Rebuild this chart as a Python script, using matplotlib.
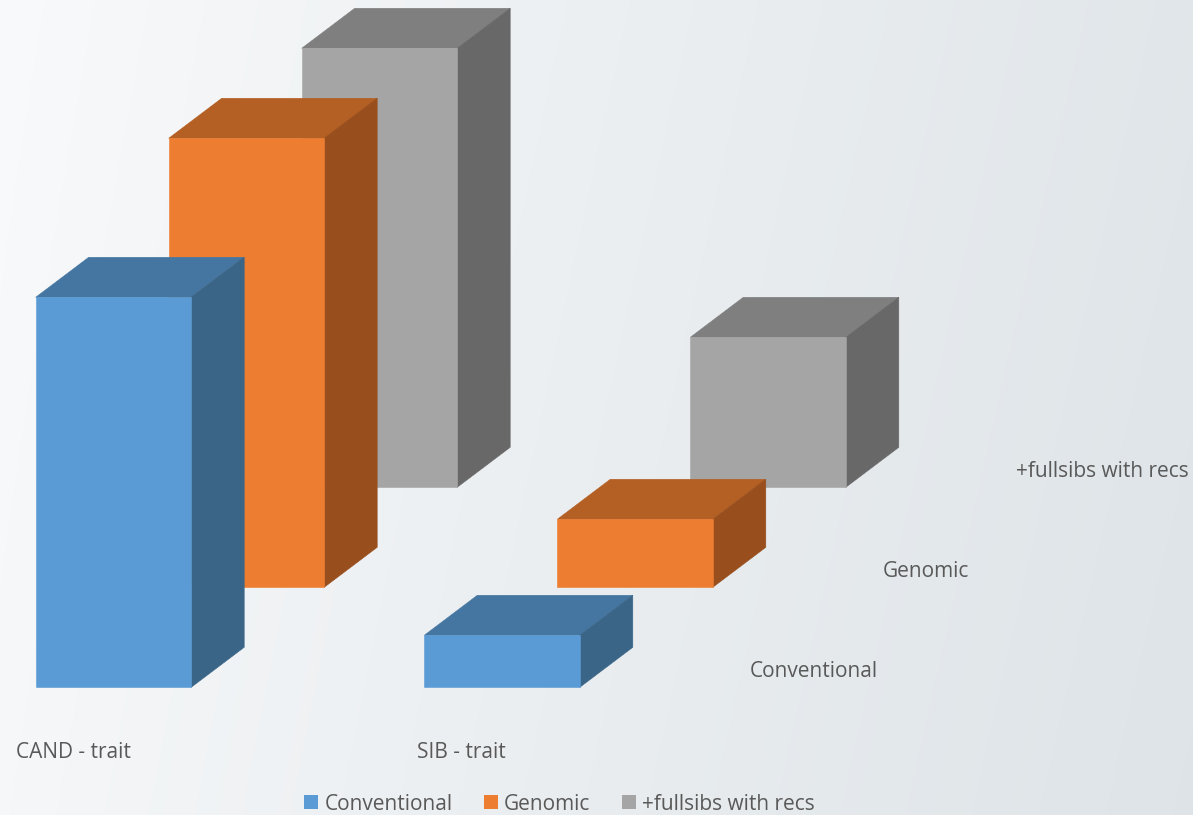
import numpy as np
import matplotlib
matplotlib.use("Agg")
import matplotlib.pyplot as plt
from matplotlib.patches import Polygon, Patch

# ---- data ----
categories = ["CAND - trait", "SIB - trait"]
series = ["Conventional", "Genomic", "+fullsibs with recs"]
conventional = [0.390, 0.052]
genomic = [0.449, 0.068]
fullsibs = [0.439, 0.150]
values = [conventional, genomic, fullsibs]

front_colors = ["#5B9BD5", "#ED7D31", "#A5A5A5"]
top_colors = ["#4576A1", "#B45F23", "#7F7F7F"]
side_colors = ["#3A6587", "#984F1D", "#686868"]
text_color = "#595959"
font = ["Open Sans", "DejaVu Sans"]

# ---- layout (pixel-like data space) ----
W, H = 1193, 815
x0 = 35.7            # front-left of first bar
base0 = 687.3        # baseline of front row
cat_spacing = 388.6
series_dx, series_dy = 133.0, -100.0
bar_w = 155.5
depth_dx, depth_dy = 53.0, -40.0
scale = 1000.0       # pixels per unit of value
fs = 15.0

fig = plt.figure(figsize=(W / 100, H / 100), dpi=100)
ax = fig.add_axes([0, 0, 1, 1])
ax.set_xlim(0, W)
ax.set_ylim(H, 0)
ax.axis("off")

# background gradient
yy, xx = np.mgrid[0:H, 0:W]
t = np.clip(0.85 * (xx / W) ** 0.9 + 0.12 * (yy / H), 0, 1)
c0 = np.array([0xF9, 0xFA, 0xFB]) / 255.0
c1 = np.array([0xDD, 0xE3, 0xE7]) / 255.0
img = c0[None, None, :] * (1 - t[..., None]) + c1[None, None, :] * t[..., None]
ax.imshow(img, extent=(0, W, H, 0), aspect="auto", zorder=0)

# bars: draw back series first
for s in reversed(range(len(series))):
    for c in range(len(categories)):
        v = values[s][c]
        x = x0 + c * cat_spacing + s * series_dx
        base = base0 + s * series_dy
        top = base - v * scale
        front = [(x, base), (x, top), (x + bar_w, top), (x + bar_w, base)]
        topf = [(x, top), (x + depth_dx, top + depth_dy),
                (x + bar_w + depth_dx, top + depth_dy), (x + bar_w, top)]
        side = [(x + bar_w, top), (x + bar_w + depth_dx, top + depth_dy),
                (x + bar_w + depth_dx, base + depth_dy), (x + bar_w, base)]
        z = 10 - s
        for poly, col in ((topf, top_colors[s]), (side, side_colors[s]), (front, front_colors[s])):
            ax.add_patch(Polygon(poly, closed=True, facecolor=col, edgecolor=col,
                                 linewidth=0.4, zorder=z))

# category labels (centred under each category's front row)
for c, lab in enumerate(categories):
    ax.text(x0 + c * cat_spacing + 37.5, 758.5, lab, fontsize=fs, family=font,
            color=text_color, ha="center", va="baseline", zorder=20)

# depth (series) labels
lab_x0 = x0 + (len(categories) - 1) * cat_spacing + bar_w + depth_dx + 117
for s, lab in enumerate(series):
    ax.text(lab_x0 + s * series_dx, base0 - 10.6 + s * series_dy, lab, fontsize=fs,
            family=font, color=text_color, ha="left", va="baseline", zorder=20)

# legend
handles = [Patch(facecolor=front_colors[i], edgecolor="none") for i in range(len(series))]
leg = fig.legend(handles, series, ncol=3, loc="center",
                 bbox_to_anchor=(559.5 / W, 1 - 804 / H), frameon=False,
                 prop={"family": font, "size": fs},
                 handlelength=0.67, handleheight=0.67, handletextpad=0.3,
                 columnspacing=1.5, borderpad=0)
for txt in leg.get_texts():
    txt.set_color(text_color)

fig.savefig("out.png", dpi=100)
